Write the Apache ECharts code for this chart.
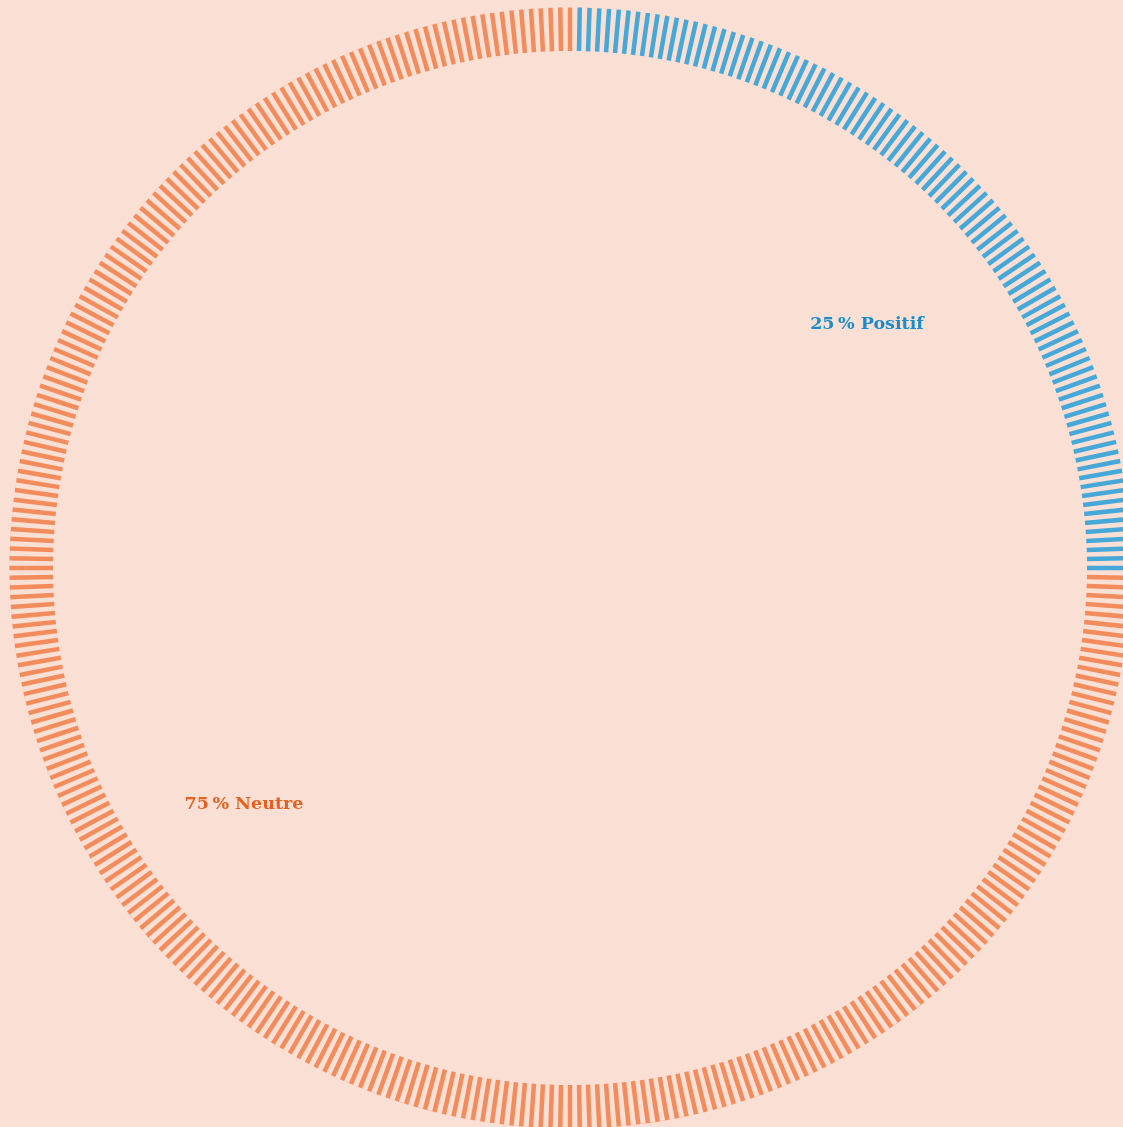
<!DOCTYPE html>
<html>
<head>
<meta charset="utf-8">
<script src="https://cdn.jsdelivr.net/npm/echarts@6/dist/echarts.min.js"></script>
<style>
html,body{margin:0;padding:0;background:#fadfd4;}
#chart{width:1123px;height:1127px;}
</style>
</head>
<body>
<div id="chart"></div>
<script>
const categories = ['Positif', 'Neutre'];
const values = [25, 75];
const tickColors = ['#45a8d8', '#f38c5c'];
const textColors = ['#1a8bcb', '#e8601e'];
const tickCount = 360;

const total = values.reduce((a, b) => a + b, 0);
const colorStops = [];
let acc = 0;
values.forEach((v, i) => {
  acc += v;
  colorStops.push([i === values.length - 1 ? 1 : acc / total, tickColors[i]]);
});

const center = [570, 568];
const labelOffsets = [[17, 36], [-46, -44]];

const chart = echarts.init(document.getElementById('chart'), null, {renderer: 'canvas'});
chart.setOption({
  backgroundColor: '#fadfd4',
  animation: false,
  series: [
    {
      type: 'gauge',
      center: center,
      radius: 560.5,
      startAngle: 90 - 360 / tickCount,
      endAngle: -270,
      min: 0,
      max: total,
      splitNumber: tickCount - 1,
      axisLine: {show: true, lineStyle: {width: 0, color: colorStops}},
      axisTick: {show: false},
      splitLine: {show: true, distance: 0, length: 43.5, lineStyle: {color: 'auto', width: 4.5, cap: 'butt'}},
      axisLabel: {show: false},
      pointer: {show: false},
      anchor: {show: false},
      title: {show: false},
      detail: {show: false},
      data: []
    },
    {
      type: 'pie',
      center: center,
      radius: [0, 786],
      startAngle: 90,
      clockwise: true,
      silent: true,
      percentPrecision: 0,
      itemStyle: {color: 'rgba(0,0,0,0)'},
      labelLine: {show: false},
      label: {
        show: true,
        position: 'inside',
        formatter: '{d}\u202f% {b}',
        fontFamily: 'DejaVu Serif',
        fontWeight: 'bold',
        fontSize: 17.5
      },
      data: categories.map((c, i) => ({
        name: c,
        value: values[i],
        label: {color: textColors[i], offset: labelOffsets[i]}
      }))
    }
  ]
});
</script>
</body>
</html>
